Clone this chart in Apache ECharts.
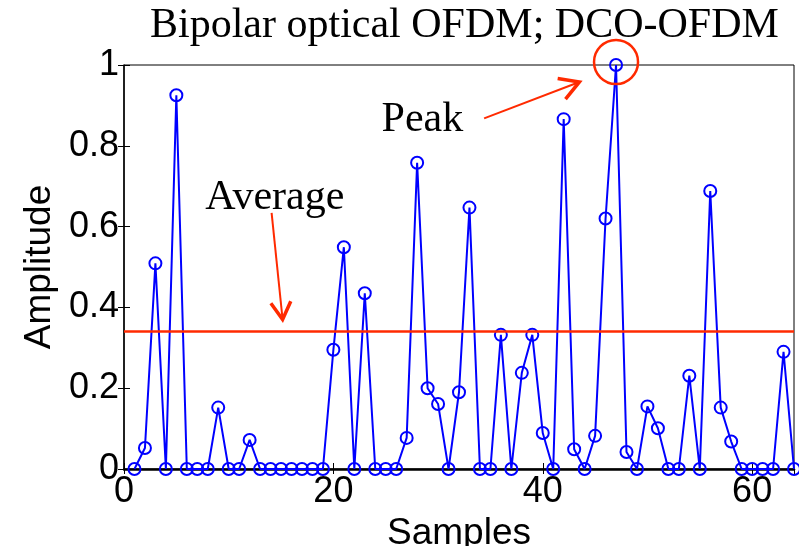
<!DOCTYPE html>
<html>
<head>
<meta charset="utf-8">
<script src="https://cdn.jsdelivr.net/npm/echarts@6/dist/echarts.min.js"></script>
<style>html,body{margin:0;padding:0;background:#fff}#c{width:799px;height:546px}</style>
</head>
<body>
<div id="c"></div>
<script>
const samples = [1,2,3,4,5,6,7,8,9,10,11,12,13,14,15,16,17,18,19,20,21,22,23,24,25,26,27,28,29,30,31,32,33,34,35,36,37,38,39,40,41,42,43,44,45,46,47,48,49,50,51,52,53,54,55,56,57,58,59,60,61,62,63,64];
const amplitude = [0,0.052,0.509,0,0.925,0,0,0,0.152,0,0,0.072,0,0,0,0,0,0,0,0.295,0.549,0,0.435,0,0,0,0.077,0.758,0.200,0.161,0,0.190,0.647,0,0,0.332,0,0.238,0.332,0.089,0,0.866,0.049,0,0.082,0.620,1.000,0.042,0,0.155,0.101,0,0,0.231,0,0.688,0.152,0.068,0,0,0,0,0.290,0];
const averageLevel = [0.34];
const peakPoint = [47, 1.0];
const xTicks = [0, 20, 40, 60];
const yTicks = [0, 0.2, 0.4, 0.6, 0.8, 1];
const titleText = 'Bipolar optical OFDM; DCO-OFDM';
const xName = 'Samples';
const yName = 'Amplitude';
const averageLabel = {text: 'Average', at: [14.4, 0.672], arrowFrom: [14.1, 0.634], arrowTo: [15.15, 0.37]};
const peakLabel = {text: 'Peak', at: [28.5, 0.864], arrowFrom: [34.4, 0.868], arrowTo: [43.5, 0.958]};

const RED = '#ff2a00';
const BLUE = '#0000ff';
const chart = echarts.init(document.getElementById('c'), null, {renderer: 'canvas'});
const pairs = samples.map((s, i) => [s, amplitude[i]]);

const sansFont = 'Liberation Sans, Arial, sans-serif';
const serifFont = 'Liberation Serif, Times New Roman, serif';

chart.setOption({
  animation: false,
  backgroundColor: '#fff',
  title: {
    text: titleText, left: 145, top: 0,
    textStyle: {fontFamily: serifFont, fontSize: 42, fontWeight: 'normal', color: '#000'}
  },
  grid: {left: 124, right: 5, top: 65, bottom: 77, show: true, borderColor: '#000', borderWidth: 1,
    containLabel: false, outerBoundsMode: 'none'},
  xAxis: [{
    type: 'value', min: 0, max: 64, interval: 20,
    name: xName, nameLocation: 'middle', nameGap: 34,
    nameTextStyle: {fontFamily: sansFont, fontSize: 37, color: '#000'},
    axisLine: {show: true, lineStyle: {color: '#000', width: 2.5}},
    axisTick: {show: true, inside: true, length: 6, lineStyle: {color: '#000'}},
    axisLabel: {fontFamily: sansFont, fontSize: 36, color: '#000', margin: 5, showMaxLabel: false,
      formatter: v => xTicks.includes(v) ? String(v) : ''},
    splitLine: {show: false}
  }, {
    type: 'value', min: 0, max: 64, interval: 20, position: 'top',
    axisLine: {show: false}, axisTick: {show: true, inside: true, length: 5, lineStyle: {color: '#000'}},
    axisLabel: {show: false}, splitLine: {show: false}
  }],
  yAxis: [{
    type: 'value', min: 0, max: 1, interval: 0.2,
    name: yName, nameLocation: 'middle', nameGap: 66, nameRotate: 90,
    nameTextStyle: {fontFamily: sansFont, fontSize: 37, color: '#000'},
    axisLine: {show: true, lineStyle: {color: '#000', width: 1.5}},
    axisTick: {show: true, inside: true, length: 6, lineStyle: {color: '#000'}},
    axisLabel: {fontFamily: sansFont, fontSize: 36, color: '#000', margin: 5,
      formatter: v => yTicks.some(t => Math.abs(t - v) < 1e-9) ? String(+v.toFixed(1)) : ''},
    splitLine: {show: false}
  }, {
    type: 'value', min: 0, max: 1, interval: 0.2, position: 'right',
    axisLine: {show: false}, axisTick: {show: true, inside: true, length: 6, lineStyle: {color: '#000'}},
    axisLabel: {show: false}, splitLine: {show: false}
  }],
  series: [{
    type: 'line', data: pairs, clip: false,
    symbol: 'circle', symbolSize: 12,
    lineStyle: {color: BLUE, width: 2},
    itemStyle: {color: 'rgba(0,0,0,0)', borderColor: BLUE, borderWidth: 2},
    markLine: {
      silent: true, symbol: ['none', 'none'], label: {show: false},
      lineStyle: {color: RED, width: 2.5, type: 'solid'},
      data: [{yAxis: averageLevel[0]}]
    },
    z: 3
  }]
});

function arrowGraphics(from, to, shaftW, headLen, headW) {
  const p0 = chart.convertToPixel({gridIndex: 0}, from);
  const p1 = chart.convertToPixel({gridIndex: 0}, to);
  const dx = p1[0] - p0[0], dy = p1[1] - p0[1];
  const L = Math.hypot(dx, dy), ux = dx / L, uy = dy / L;
  const ang = Math.PI / 6;
  const w1 = [p1[0] - headLen * (ux * Math.cos(ang) - uy * Math.sin(ang)), p1[1] - headLen * (uy * Math.cos(ang) + ux * Math.sin(ang))];
  const w2 = [p1[0] - headLen * (ux * Math.cos(ang) + uy * Math.sin(ang)), p1[1] - headLen * (uy * Math.cos(ang) - ux * Math.sin(ang))];
  return [
    {type: 'line', shape: {x1: p0[0], y1: p0[1], x2: p1[0], y2: p1[1]}, style: {stroke: RED, lineWidth: shaftW}, z: 10},
    {type: 'polyline', shape: {points: [w1, p1, w2]}, style: {stroke: RED, lineWidth: headW, fill: null, lineJoin: 'miter'}, z: 10}
  ];
}
function labelGraphic(lbl) {
  const p = chart.convertToPixel({gridIndex: 0}, lbl.at);
  return {type: 'text', x: p[0], y: p[1], style: {text: lbl.text, fontFamily: serifFont, fontSize: 42, fill: '#000', align: 'center', verticalAlign: 'middle'}, z: 10};
}
const pk = chart.convertToPixel({gridIndex: 0}, peakPoint);
chart.setOption({
  graphic: [
    labelGraphic(averageLabel),
    labelGraphic(peakLabel),
    ...arrowGraphics(averageLabel.arrowFrom, averageLabel.arrowTo, 2, 20, 3.5),
    ...arrowGraphics(peakLabel.arrowFrom, peakLabel.arrowTo, 2, 22, 3.5),
    {type: 'circle', shape: {cx: pk[0], cy: pk[1] - 3, r: 22}, style: {stroke: RED, lineWidth: 2.5, fill: null}, z: 10}
  ]
});
</script>
</body>
</html>
